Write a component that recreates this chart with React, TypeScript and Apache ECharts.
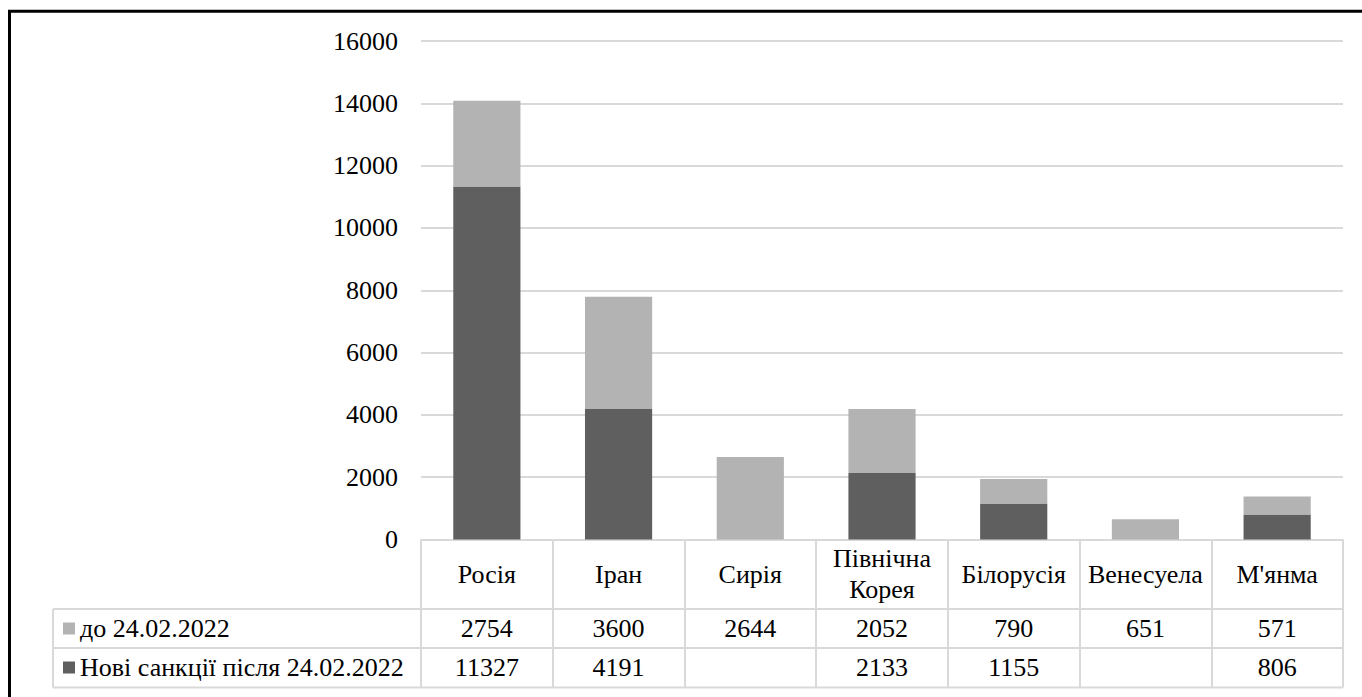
import React, { useEffect, useRef } from "react";
import * as echarts from "echarts";

const categories = ["Росія", "Іран", "Сирія", "Північна Корея", "Білорусія", "Венесуела", "М'янма"];
const seriesBeforeName = "до 24.02.2022";
const seriesAfterName = "Нові санкції після 24.02.2022";
const valuesBefore: (number | null)[] = [2754, 3600, 2644, 2052, 790, 651, 571];
const valuesAfter: (number | null)[] = [11327, 4191, null, 2133, 1155, null, 806];
const yTicks = { min: 0, max: 16000, interval: 2000 };

const FONT = "Liberation Serif";
const DARK = "#5f5f5f";
const LIGHT = "#b3b3b3";
const LINE = "#d9d9d9";

// layout constants
const W = 1362;
const H = 697;
const GRID_L = 421;
const GRID_R = 1343;
const GRID_T = 41;
const AXIS_Y = 539.5;
const ROW1_Y = 609;
const ROW2_Y = 648;
const TABLE_B = 687.5;
const TABLE_L = 53;

export default function App() {
  const ref = useRef<HTMLDivElement>(null);
  useEffect(() => {
    if (!ref.current) return;
    const chart = echarts.init(ref.current, null, { renderer: "svg" });
    const toLabel = (v: number | null) => (v == null ? "" : String(v));
    const textBase = { fontFamily: FONT, fontSize: 26, color: "#000" };
    const option: any = {
      animation: false,
      backgroundColor: "#fff",
      textStyle: { fontFamily: FONT },
      grid: { left: GRID_L, right: W - GRID_R, top: GRID_T, bottom: H - AXIS_Y, containLabel: false },
      legend: {
        orient: "vertical",
        left: 63,
        top: (ROW1_Y + ROW2_Y) / 2 - 13,
        padding: 0,
        itemGap: 13,
        itemWidth: 12,
        itemHeight: 12,
        icon: "rect",
        selectedMode: false,
        data: [seriesBeforeName, seriesAfterName],
        textStyle: { ...textBase, lineHeight: 26 },
      },
      yAxis: {
        type: "value",
        min: yTicks.min,
        max: yTicks.max,
        interval: yTicks.interval,
        axisLine: { show: false },
        axisTick: { show: false },
        axisLabel: { ...textBase, margin: 23, formatter: (v: number) => String(v) },
        splitLine: { lineStyle: { color: LINE, width: 2 } },
      },
      xAxis: [
        {
          type: "category",
          data: categories,
          position: "bottom",
          boundaryGap: true,
          axisLine: { show: true, lineStyle: { color: LINE, width: 2 } },
          axisTick: { show: true, length: TABLE_B - AXIS_Y, lineStyle: { color: LINE, width: 2 }, interval: 0 },
          axisLabel: {
            ...textBase,
            interval: 0,
            margin: (ROW1_Y - AXIS_Y) / 2,
            verticalAlign: "middle",
            lineHeight: 31,
            formatter: (v: string) => v.replace(" ", "\n"),
          },
        },
        {
          type: "category",
          data: valuesBefore.map(toLabel),
          position: "bottom",
          offset: (ROW1_Y + ROW2_Y) / 2 - AXIS_Y,
          axisLine: { show: false },
          axisTick: { show: false },
          axisLabel: { ...textBase, interval: 0, margin: 0, verticalAlign: "middle" },
        },
        {
          type: "category",
          data: valuesAfter.map(toLabel),
          position: "bottom",
          offset: (ROW2_Y + TABLE_B) / 2 - AXIS_Y,
          axisLine: { show: false },
          axisTick: { show: false },
          axisLabel: { ...textBase, interval: 0, margin: 0, verticalAlign: "middle" },
        },
      ],
      series: [
        {
          name: seriesAfterName,
          type: "bar",
          stack: "total",
          xAxisIndex: 0,
          barWidth: "51%",
          itemStyle: { color: DARK },
          data: valuesAfter,
        },
        {
          name: seriesBeforeName,
          type: "bar",
          stack: "total",
          xAxisIndex: 0,
          barWidth: "51%",
          itemStyle: { color: LIGHT },
          data: valuesBefore,
        },
      ],
      graphic: [
        {
          type: "line",
          silent: true,
          shape: { x1: 8, y1: 11.3, x2: W, y2: 11.3 },
          style: { stroke: "#000", lineWidth: 3 },
          z: 100,
        },
        {
          type: "line",
          silent: true,
          shape: { x1: 9.5, y1: 10, x2: 9.5, y2: H },
          style: { stroke: "#000", lineWidth: 3 },
          z: 100,
        },
        {
          type: "line",
          silent: true,
          shape: { x1: TABLE_L, y1: ROW1_Y, x2: GRID_R, y2: ROW1_Y },
          style: { stroke: LINE, lineWidth: 2 },
        },
        {
          type: "line",
          silent: true,
          shape: { x1: TABLE_L, y1: ROW2_Y, x2: GRID_R, y2: ROW2_Y },
          style: { stroke: LINE, lineWidth: 2 },
        },
        {
          type: "line",
          silent: true,
          shape: { x1: TABLE_L, y1: TABLE_B, x2: GRID_R, y2: TABLE_B },
          style: { stroke: LINE, lineWidth: 2 },
        },
        {
          type: "line",
          silent: true,
          shape: { x1: TABLE_L, y1: ROW1_Y, x2: TABLE_L, y2: TABLE_B },
          style: { stroke: LINE, lineWidth: 2 },
        },
      ],
    };
    chart.setOption(option);
    return () => chart.dispose();
  }, []);
  return (
    <div
      ref={ref}
      style={{ position: "fixed", left: 0, top: 0, width: W, height: H, background: "#fff" }}
    />
  );
}
